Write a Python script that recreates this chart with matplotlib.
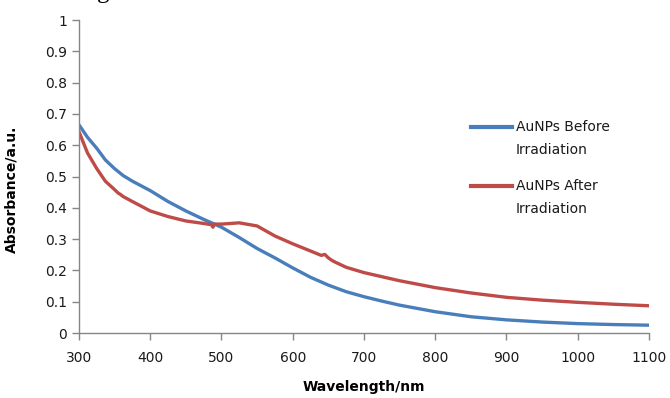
import matplotlib
matplotlib.use("Agg")
import matplotlib.pyplot as plt
import numpy as np

# wavelength (nm) and absorbance
wl_before = [300, 312, 325, 337, 350, 362, 375, 400, 425, 450, 475, 500, 525,
             550, 575, 600, 625, 650, 675, 700, 725, 750, 800, 850, 900, 950,
             1000, 1050, 1100]
abs_before = [0.665, 0.625, 0.59, 0.553, 0.525, 0.503, 0.485, 0.455, 0.42, 0.39,
              0.363, 0.338, 0.305, 0.27, 0.24, 0.208, 0.178, 0.153, 0.132, 0.116,
              0.102, 0.089, 0.068, 0.052, 0.042, 0.035, 0.030, 0.027, 0.025]

wl_after = [300, 312, 325, 337, 350, 355, 358, 362, 375, 400, 425, 450, 475, 486,
            488, 490, 500, 525, 550, 575, 600, 625, 640, 645, 650, 655, 660, 675,
            700, 725, 750, 800, 850, 900, 950, 1000, 1050, 1100]
abs_after = [0.643, 0.575, 0.525, 0.485, 0.458, 0.447, 0.443, 0.436, 0.42, 0.39,
             0.372, 0.358, 0.35, 0.346, 0.338, 0.348, 0.348, 0.352, 0.342, 0.31,
             0.285, 0.262, 0.248, 0.251, 0.24, 0.232, 0.226, 0.21, 0.193, 0.18,
             0.167, 0.145, 0.128, 0.114, 0.105, 0.098, 0.092, 0.087]

labels = ["AuNPs Before\nIrradiation", "AuNPs After\nIrradiation"]
colors = ["#4a7ebb", "#be4b48"]

fig = plt.figure(figsize=(6.7, 3.98), dpi=100)
ax = fig.add_axes([0.1179, 0.1633, 0.8507, 0.7864])

ax.plot(wl_before, abs_before, color=colors[0], lw=2.4, label=labels[0])
ax.plot(wl_after, abs_after, color=colors[1], lw=2.4, label=labels[1])

ax.set_xlim(300, 1100)
ax.set_ylim(0, 1)
ax.set_xticks(np.arange(300, 1101, 100))
ax.set_yticks(np.arange(0, 1.01, 0.1))
ax.set_yticklabels(["0", "0.1", "0.2", "0.3", "0.4", "0.5", "0.6", "0.7", "0.8", "0.9", "1"])

for s in ["top", "right"]:
    ax.spines[s].set_visible(False)
for s in ["left", "bottom"]:
    ax.spines[s].set_color("#868686")
    ax.spines[s].set_linewidth(1.0)
ax.tick_params(direction="out", length=5, width=1, color="#868686",
               labelsize=10, labelcolor="#1a1a1a")
ax.tick_params(axis="x", pad=8)

ax.set_xlabel("Wavelength/nm", fontsize=10, fontweight="bold")
ax.set_ylabel("Absorbance/a.u.", fontsize=10, fontweight="bold")
ax.xaxis.set_label_coords(0.5, -0.15)
ax.yaxis.set_label_coords(-0.107, 0.46)

leg = ax.legend(loc="upper left", bbox_to_anchor=(0.665, 0.72), frameon=False,
                fontsize=10, handlelength=3.0, handletextpad=0.25,
                labelspacing=1.6)
for t in leg.get_texts():
    t.set_linespacing(1.8)
    t.set_color("#1a1a1a")
for ln in leg.get_lines():
    ln.set_linewidth(3)
    ln.set_ydata(np.asarray(ln.get_ydata()) + 9.0)

# cut-off caption letter at the top edge
fig.text(0.145, 1.004, "g", fontsize=18, family="Liberation Serif", va="baseline")

fig.savefig("out.png", dpi=100)
